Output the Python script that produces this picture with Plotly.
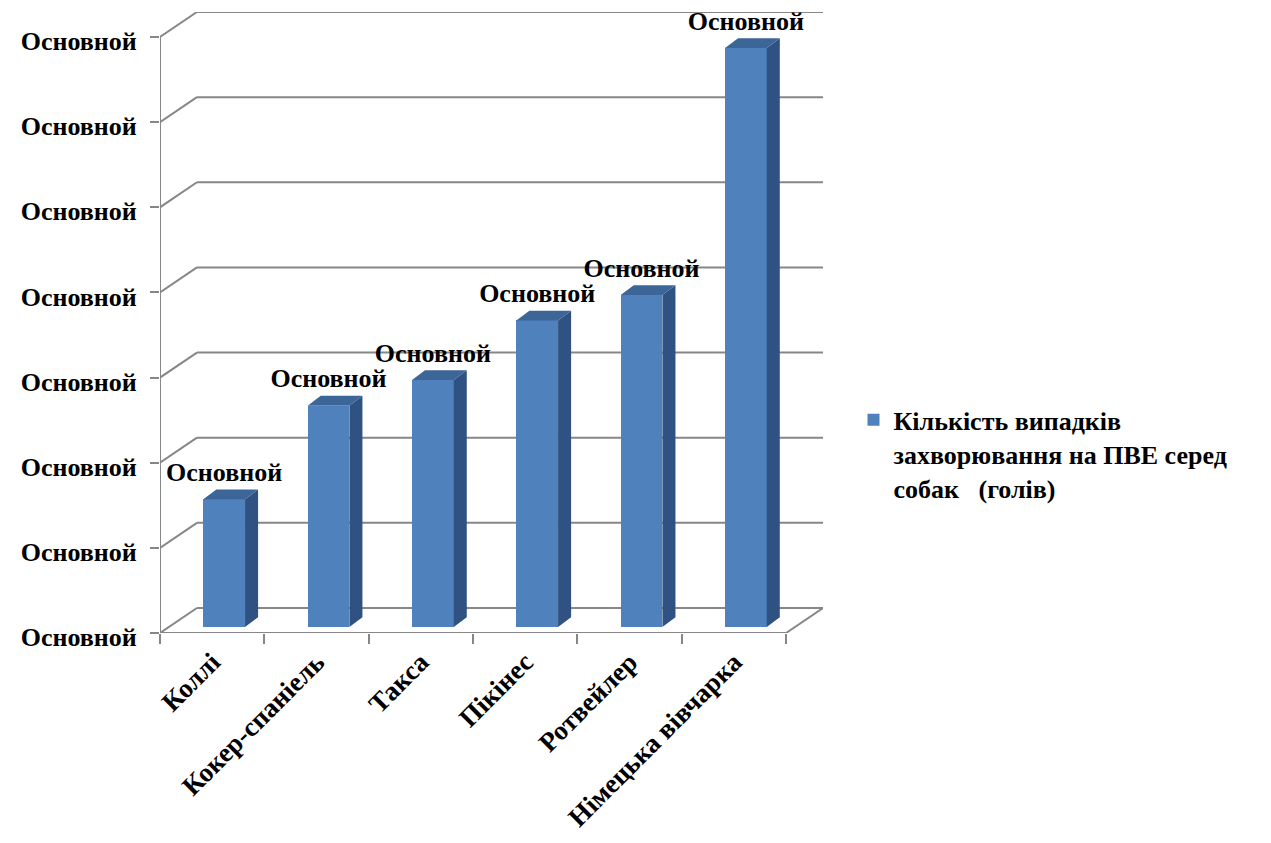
import plotly.graph_objects as go

# ---- data ----
breeds = ["Коллі", "Кокер-спаніель", "Такса", "Пікінес", "Ротвейлер", "Німецька вівчарка"]
cases = [15, 26, 29, 36, 39, 68]
bar_labels = ["Основной"] * len(breeds)
y_ticks = [0, 10, 20, 30, 40, 50, 60, 70]
y_tick_text = ["Основной"] * len(y_ticks)
series_name = "Кількість випадків<br>захворювання на ПВЕ серед<br>собак\u00a0\u00a0 (голів)"

# ---- pseudo-3D geometry (axis units) ----
DEPTH_X = 0.354      # wall depth along x (categories)
DEPTH_Y = 2.94       # wall depth along y (values)
BAR_FRONT = 0.24     # depth fraction where bar fronts sit
BAR_SHIFT = 0.115    # horizontal shift of bar fronts
BAR_W = 0.40
BAR_DX = 0.125       # bar depth (x)
BAR_DY = 1.15        # bar depth (y)
LABEL_GAP = 2.9

FONT = "Times New Roman, Liberation Serif, serif"
FS = 26
GRID = "#878787"
FRONT_C = "#4F81BD"
TOP_C = "#3C6598"
SIDE_C = "#2F5283"

n = len(breeds)
x_left = -0.5
x_right = n - 0.5
base = BAR_FRONT * DEPTH_Y

fig = go.Figure()

# bar front faces
xc = [i + BAR_SHIFT for i in range(n)]
fig.add_trace(go.Bar(
    x=xc, y=cases, base=base, width=BAR_W,
    marker=dict(color=FRONT_C, line=dict(width=0)),
    name=series_name, showlegend=True, hoverinfo="skip",
))

# side and top faces of each bar
for i, v in enumerate(cases):
    l = xc[i] - BAR_W / 2
    r = xc[i] + BAR_W / 2
    top = base + v
    fig.add_trace(go.Scatter(
        x=[r, r + BAR_DX, r + BAR_DX, r, r],
        y=[base, base + BAR_DY, top + BAR_DY, top, base],
        fill="toself", fillcolor=SIDE_C, mode="lines",
        line=dict(width=0, color=SIDE_C), showlegend=False, hoverinfo="skip",
    ))
    fig.add_trace(go.Scatter(
        x=[l, l + BAR_DX, r + BAR_DX, r, l],
        y=[top, top + BAR_DY, top + BAR_DY, top, top],
        fill="toself", fillcolor=TOP_C, mode="lines",
        line=dict(width=0, color=TOP_C), showlegend=False, hoverinfo="skip",
    ))

# value labels
fig.add_trace(go.Scatter(
    x=xc, y=[base + v + LABEL_GAP for v in cases],
    mode="text", text=bar_labels, textposition="middle center",
    textfont=dict(family=FONT, size=FS, color="black", weight="bold"),
    showlegend=False, hoverinfo="skip", cliponaxis=False,
))

# walls, floor and axis lines
shapes = []
line = dict(color=GRID, width=2)
for v in y_ticks:
    shapes.append(dict(type="line", xref="x", yref="y", layer="below",
                       x0=x_left, y0=v, x1=x_left + DEPTH_X, y1=v + DEPTH_Y, line=line))
    shapes.append(dict(type="line", xref="x", yref="y", layer="below",
                       x0=x_left + DEPTH_X, y0=v + DEPTH_Y, x1=x_right + DEPTH_X, y1=v + DEPTH_Y, line=line))
shapes.append(dict(type="line", xref="x", yref="y", layer="below",
                   x0=x_left, y0=0, x1=x_right, y1=0, line=line))
shapes.append(dict(type="line", xref="x", yref="y", layer="below",
                   x0=x_right, y0=0, x1=x_right + DEPTH_X, y1=DEPTH_Y, line=line))
shapes.append(dict(type="line", xref="x", yref="y", layer="below",
                   x0=x_left, y0=0, x1=x_left, y1=y_ticks[-1], line=line))

x_range = [x_left, x_right + DEPTH_X]
y_range = [0, y_ticks[-1] + DEPTH_Y]

fig.update_layout(
    width=1271, height=843,
    margin=dict(l=160, r=448, t=12, b=210, autoexpand=False),
    paper_bgcolor="white", plot_bgcolor="white",
    shapes=shapes,
    bargap=0,
    xaxis=dict(range=x_range, showgrid=False, zeroline=False, showline=False,
               tickmode="array", tickvals=[i - 0.5 for i in range(n + 1)],
               ticks="outside", ticklen=10, tickwidth=2, tickcolor=GRID,
               showticklabels=False, automargin=False),
    xaxis2=dict(range=x_range, overlaying="x", anchor="y", side="bottom",
                showgrid=False, zeroline=False, showline=False,
                tickmode="array", tickvals=list(range(n)), ticktext=breeds,
                ticks="", tickangle=-45, ticklabelstandoff=7, automargin=False,
                tickfont=dict(family=FONT, size=27, color="black", weight="bold")),
    yaxis=dict(range=y_range, showgrid=False, zeroline=False, showline=False,
               tickmode="array", tickvals=y_ticks, ticktext=y_tick_text,
               ticks="outside", ticklen=9, tickwidth=2, tickcolor=GRID,
               ticklabelstandoff=8, ticklabelshift=4, automargin=False,
               tickfont=dict(family=FONT, size=FS, color="black", weight="bold")),
    legend=dict(x=1.046, y=0.381, xanchor="left", yanchor="top", valign="top",
                font=dict(family=FONT, size=FS, color="black", weight="bold"),
                bgcolor="rgba(0,0,0,0)", itemwidth=30),
    showlegend=True,
)

# invisible trace that activates xaxis2 for the category labels
fig.add_trace(go.Scatter(x=[0], y=[0], xaxis="x2", mode="markers",
                         marker=dict(opacity=0), showlegend=False, hoverinfo="skip"))

fig.write_html("out.html")
